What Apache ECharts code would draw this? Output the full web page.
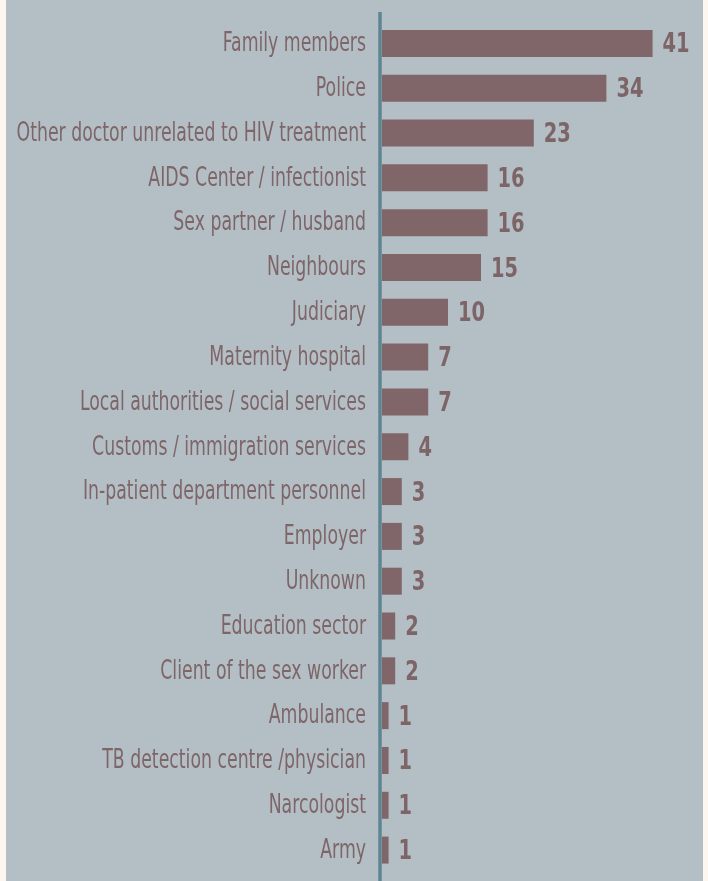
<!DOCTYPE html>
<html>
<head>
<meta charset="utf-8">
<script src="https://cdn.jsdelivr.net/npm/echarts@6/dist/echarts.min.js"></script>
<style>
html,body{margin:0;padding:0;background:#fdf6ee;}
#c{position:absolute;left:6px;top:0;width:697px;height:881px;background:#b4bfc5;}
</style>
</head>
<body>
<div id="c"></div>
<script>
const categories = [
  "Family members",
  "Police",
  "Other doctor unrelated to HIV treatment",
  "AIDS Center / infectionist",
  "Sex partner / husband",
  "Neighbours",
  "Judiciary",
  "Maternity hospital",
  "Local authorities / social services",
  "Customs / immigration services",
  "In-patient department personnel",
  "Employer",
  "Unknown",
  "Education sector",
  "Client of the sex worker",
  "Ambulance",
  "TB detection centre /physician",
  "Narcologist",
  "Army"
];
const values = [41, 34, 23, 16, 16, 15, 10, 7, 7, 4, 3, 3, 3, 2, 2, 1, 1, 1, 1];

const FONT = '"DejaVu Sans Condensed", "Liberation Sans", sans-serif';
const chart = echarts.init(document.getElementById('c'), null, {renderer: 'canvas'});
chart.setOption({
  backgroundColor: '#b4bfc5',
  animation: false,
  grid: {left: 376, top: 21, width: 297, bottom: 8.5, containLabel: false, outerBoundsMode: 'none'},
  xAxis: {type: 'value', min: 0, max: 45, show: false},
  yAxis: {
    type: 'category',
    data: categories,
    inverse: true,
    axisLine: {show: false},
    axisTick: {show: false},
    splitLine: {show: false},
    axisLabel: {show: false}
  },
  series: [{
    type: 'bar',
    data: values,
    barWidth: 27,
    itemStyle: {color: '#806668'}
  }, {
    type: 'custom',
    clip: false,
    silent: true,
    data: values.map((v, i) => [v, i]),
    encode: {x: 0, y: 1},
    renderItem: function (params, api) {
      const i = api.value(1);
      const v = api.value(0);
      const p0 = api.coord([0, i]);
      const p1 = api.coord([v, i]);
      return {
        type: 'group',
        children: [{
          type: 'text',
          x: p0[0] - 16, y: p0[1] + 1,
          scaleX: 0.74,
          style: {
            text: categories[i],
            fill: '#7d6568',
            font: '26px ' + FONT,
            align: 'right',
            verticalAlign: 'middle'
          }
        }, {
          type: 'text',
          x: p1[0] + 10, y: p1[1] + 2,
          scaleX: 0.8,
          style: {
            text: String(v),
            fill: '#7d6467',
            font: 'bold 27px ' + FONT,
            align: 'left',
            verticalAlign: 'middle'
          }
        }]
      };
    }
  }]
});
const ax = chart.convertToPixel({xAxisIndex: 0}, 0) - 2;
chart.setOption({
  graphic: [{
    type: 'line',
    shape: {x1: ax, y1: 12, x2: ax, y2: 881},
    style: {stroke: '#5e8692', lineWidth: 3.5}
  }]
});
</script>
</body>
</html>
